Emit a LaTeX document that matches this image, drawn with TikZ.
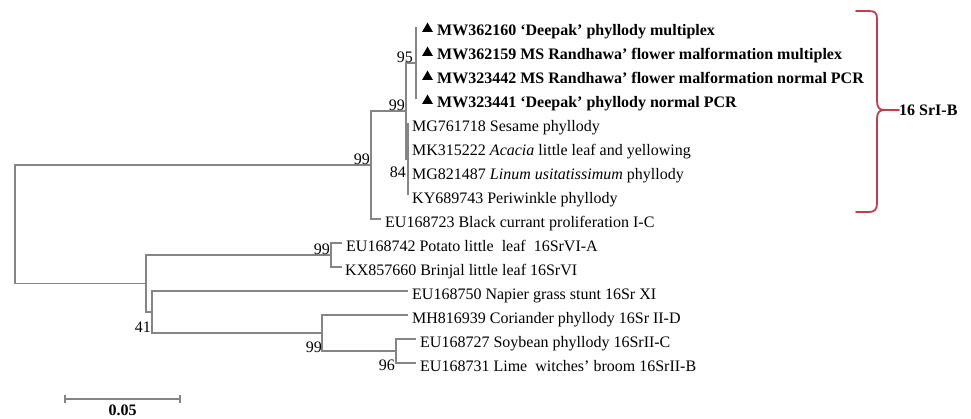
\documentclass[tikz,border=0pt]{standalone}
\usepackage{fontspec}
\setmainfont{Liberation Serif}
\usetikzlibrary{shapes.geometric,calc}
\definecolor{brc}{HTML}{858585}
\definecolor{brk}{HTML}{C33C4E}
\begin{document}
\begin{tikzpicture}[x=1pt,y=-1pt,
  br/.style={draw=brc, line width=1.2pt},
  lab/.style={anchor=base west, inner sep=0pt, font=\fontsize{16}{18}\selectfont},
  blab/.style={anchor=base west, inner sep=0pt, font=\fontsize{16}{18}\selectfont\bfseries},
  bs/.style={anchor=base east, inner sep=0pt, font=\fontsize{16}{18}\selectfont},
  tri/.style={regular polygon, regular polygon sides=3, fill=black, inner sep=0pt, minimum size=12.5pt},
  bracestyle/.style={draw=brk, line width=1.8pt, line cap=round, line join=round}]
\useasboundingbox (0,0) rectangle (971,418);
% internal nodes
\coordinate (R) at (15,224);
\coordinate (A) at (371,165);
\coordinate (B) at (406,111);
\coordinate (C) at (416,63);
\coordinate (D) at (408,159);
\coordinate (E) at (146,283.5);
\coordinate (F) at (331,255);
\coordinate (G) at (152,312);
\coordinate (H) at (322,333);
\coordinate (I) at (396,351);
% leaf tips
\coordinate (t0) at (416,27);
\coordinate (t1) at (416,51);
\coordinate (t2) at (416,75);
\coordinate (t3) at (416,99);
\coordinate (t4) at (408,123);
\coordinate (t5) at (408,147);
\coordinate (t6) at (408,171);
\coordinate (t7) at (408,195);
\coordinate (t8) at (381,219);
\coordinate (t9) at (342,243);
\coordinate (t10) at (342,267);
\coordinate (t11) at (408,291);
\coordinate (t12) at (408,315);
\coordinate (t13) at (416,339);
\coordinate (t14) at (416,363);
% branches
\draw[br] (A) -| (R) |- (E);
\draw[br] (B) -| (A) |- (t8);
\draw[br] (C) -| (B) |- (D);
\draw[br] (t0) -- (t3);
\draw[br] (t4) -- (t7);
\draw[br] (F) -| (E) |- (G);
\draw[br] (t9) -| (F) |- (t10);
\draw[br] (t11) -| (G) |- (H);
\draw[br] (t12) -| (H) |- (I);
\draw[br] (t13) -| (I) |- (t14);
% triangles
\foreach \i in {0,1,2,3}{\node[tri] (m\i) at ($(t\i)+(11.5,1.8)$) {};}
% leaf labels
\node[blab] (l0) at ($(t0)+(21,8)$) {MW362160 ‘Deepak’ phyllody multiplex};
\node[blab] (l1) at ($(t1)+(21,8)$) {MW362159 MS Randhawa’ flower malformation multiplex};
\node[blab] (l2) at ($(t2)+(21,8)$) {MW323442 MS Randhawa’ flower malformation normal PCR};
\node[blab] (l3) at ($(t3)+(21,8)$) {MW323441 ‘Deepak’ phyllody normal PCR};
\node[lab] (l4) at ($(t4)+(4,8)$) {MG761718 Sesame phyllody};
\node[lab] (l5) at ($(t5)+(4,8)$) {MK315222 \textit{Acacia} little leaf and yellowing};
\node[lab] (l6) at ($(t6)+(4,8)$) {MG821487 \textit{Linum usitatissimum} phyllody};
\node[lab] (l7) at ($(t7)+(4,8)$) {KY689743 Periwinkle phyllody};
\node[lab] (l8) at ($(t8)+(4,8)$) {EU168723 Black currant proliferation I-C};
\node[lab] (l9) at ($(t9)+(4,8)$) {EU168742 Potato little~ leaf~ 16SrVI-A};
\node[lab] (l10) at ($(t10)+(3,8)$) {KX857660 Brinjal little leaf 16SrVI};
\node[lab] (l11) at ($(t11)+(4,8)$) {EU168750 Napier grass stunt 16Sr XI};
\node[lab] (l12) at ($(t12)+(4,8)$) {MH816939 Coriander phyllody 16Sr II-D};
\node[lab] (l13) at ($(t13)+(4,8)$) {EU168727 Soybean phyllody 16SrII-C};
\node[lab] (l14) at ($(t14)+(4,8)$) {EU168731 Lime~ witches’ broom 16SrII-B};
% bootstrap values
\node[bs] (b95) at (413,62) {95};
\node[bs] (b99B) at (405,110) {99};
\node[bs] (b99A) at (370,164) {99};
\node[bs] (b84) at (406,177) {84};
\node[bs] (b99F) at (330,254) {99};
\node[bs] (b41) at (151,332) {41};
\node[bs] (b99H) at (322,352) {99};
\node[bs] (b96) at (395,370) {96};
% bracket
\coordinate (k1) at (856,11);
\coordinate (k2) at (856,212);
\coordinate (kc) at (884,110);
\draw[bracestyle] (k1) -- (869,11) .. controls (875,11) and (877,13) .. (877,19) -- (877,101) .. controls (877,107) and (879,110) .. (kc) .. controls (879,110) and (877,113) .. (877,119) -- (877,203) .. controls (877,209) and (875,212) .. (869,212) -- (k2);
\node[blab] (grp) at (899,115.5) {16 SrI-B};
\draw[bracestyle] (kc) -- (grp.west |- kc);
% scale bar
\coordinate (s1) at (65,399);
\coordinate (s2) at (180,399);
\draw[br] (s1) -- (s2);
\draw[br] ($(s1)+(0,-4)$) -- ($(s1)+(0,4)$);
\draw[br] ($(s2)+(0,-4)$) -- ($(s2)+(0,4)$);
\node[anchor=base, inner sep=0pt, font=\fontsize{16}{18}\selectfont\bfseries] (sc) at (122.5,415.5) {0.05};
\end{tikzpicture}
\end{document}
